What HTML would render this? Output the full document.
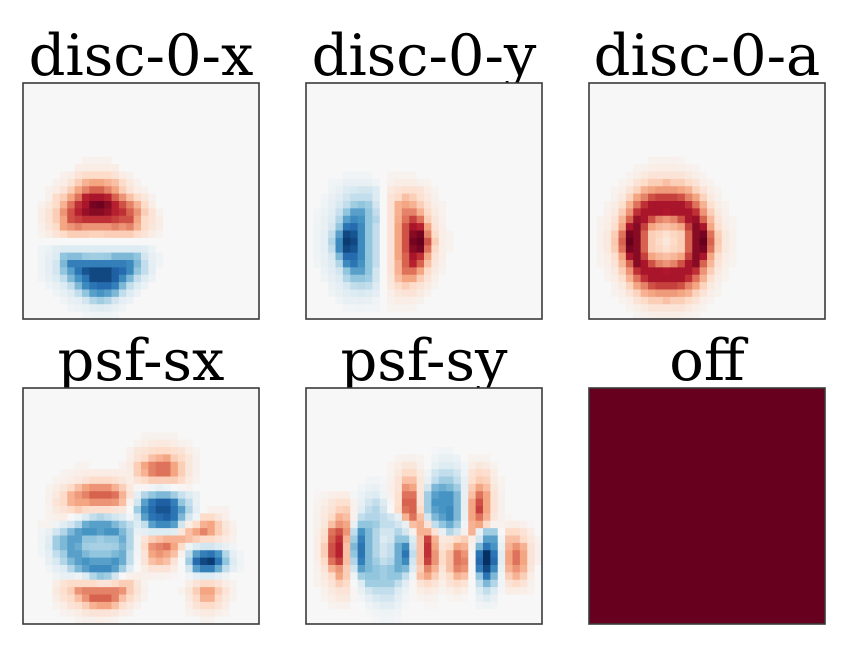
<!DOCTYPE html>
<html>
<head>
<meta charset="utf-8">
<style>
html,body{margin:0;padding:0;background:#fff;width:855px;height:650px;overflow:hidden}
svg{display:block}
text{font-family:"DejaVu Serif","Liberation Serif",serif;font-size:57.5px;fill:#000;text-anchor:middle}
</style>
</head>
<body>
<svg id="chart" width="855" height="650" viewBox="0 0 855 650" xmlns="http://www.w3.org/2000/svg">
<text x="141" y="75">disc-0-x</text>
<text x="424" y="75">disc-0-y</text>
<text x="707" y="75">disc-0-a</text>
<text x="141" y="380">psf-sx</text>
<text x="424" y="380">psf-sy</text>
<text x="707" y="380">off</text>
</svg>
<script>
const panelNames = ["disc-0-x","disc-0-y","disc-0-a","psf-sx","psf-sy","off"];
const discX = [
[],[],[],[],[],[],[],[],[],[],
[0,0,0,0,0,0,0,0,.3,.3,.3,.3],
[0,0,0,0,0,0,0,.5,.5,.5,.5,.5,.5],
[0,0,0,0,0,.3,.5,1,1.5,1.5,1.5,1.5,1,.5,.3],
[0,0,0,0,.3,.5,1,2,3,3.5,3.5,3,2.5,1.5,.7,.3],
[0,0,0,.3,.5,1,2,3.5,4.5,5.5,5.5,4.5,3.5,2,1,.5,.3],
[0,0,0,.3,1.5,2,3.5,5,7.5,8,8,7.5,5.5,4,2.5,1.5,.8,.3],
[0,0,.3,.7,1.5,3,5,7,8,9.5,9.8,9,7.5,6,4.5,3,1.5,.5],
[0,0,.5,1,2,4,6,7.5,8.5,9,9,8.5,7.5,7,5.5,4,2,1,.3],
[0,0,.5,1,2,3.5,6,6.5,7,7,7,7,6.5,6,6,3.5,1.5,1,.5],
[0,0,.3,.8,1.5,3.5,4,4.5,4,4,4,4,4.5,4,4.5,3,1.5,.8,.5],
[0,0,.2,.5,1,1.5,2,2,2,1.8,1.8,2,2,2,2,1.5,1,.5,.2],
[],
[0,0,-.3,-.4,-.8,-1,-1,-1,-1,-1,-1,-1,-1,-1,-1,-1,-.8,-.4],
[0,0,-.3,-.6,-1,-3.5,-3.8,-3.8,-3.2,-3,-3,-3.2,-4,-4,-4,-3.5,-1.5,-.6,-.3],
[0,0,-.3,-.7,-1.5,-4,-6.5,-6.5,-6.5,-6.5,-6.5,-6.5,-6.5,-6.5,-6,-4,-2,-.7,-.3],
[0,0,-.3,-.7,-1.5,-3.5,-5,-7,-8.5,-9,-9,-9,-8,-7.5,-6,-3.5,-2,-.7],
[0,0,-.2,-.5,-1,-2,-4,-5.5,-7,-9,-9,-9,-8,-6,-4,-2,-1,-.4],
[0,0,0,-.3,-.5,-1,-2,-4,-6,-7,-7.5,-7.5,-6.5,-4,-2,-1,-.4],
[0,0,0,0,-.3,-.5,-1,-2,-3.5,-5,-5.5,-5,-4,-2,-1,-.4],
[0,0,0,0,0,-.3,-.5,-.7,-1.5,-2.5,-3,-2.5,-1.5,-.7,-.4],
[0,0,0,0,0,0,-.3,-.4,-.5,-.8,-1,-.8,-.5,-.3],
[0,0,0,0,0,0,0,0,-.2,-.3,-.3,-.3,-.2]
];
const discY = [
[],[],[],[],[],[],[],[],[],[],[],[],
[0,0,0,0,0,-.2,-.2,-.2,-.2,0,0,.2,.2,.2,.2],
[0,0,0,-.2,-.3,-.5,-.5,-.5,-.5,-.3,0,.3,.5,.5,.5,.3,.2],
[0,0,0,-.3,-.5,-1,-1.2,-1.5,-1.5,-1,0,.7,1,1.2,1.2,1,.5,.2],
[0,0,-.2,-.5,-.8,-1.5,-2,-2,-2,-1,0,1,1.5,2.5,2,1.2,.7,.3],
[0,0,-.3,-.6,-1.2,-2,-3,-3.5,-3,-1.5,0,1,3,3.5,3,2,1,.4,.2],
[0,-.2,-.4,-.8,-1.8,-3.5,-5,-5,-3.5,-2,0,1,3,4.5,4.5,3,1.5,.6,.2],
[0,-.2,-.5,-1,-2.5,-5,-6,-5.5,-3.5,-2.5,0,1,3.2,5,6.5,5,2,.8,.3],
[0,-.3,-.5,-1.3,-3.5,-7,-7.5,-6,-3.5,-2,0,1,3.5,6,8,7.5,3.5,1,.4],
[0,-.3,-.7,-2,-5,-9,-8.5,-6,-3.5,-2,0,1,3.5,6,9,9.5,4.5,1.5,.4,.2],
[0,-.3,-.7,-2.5,-6,-9.5,-9,-6,-3.5,-2,0,1,3.5,6,9.5,10,6,2,.5,.2],
[0,-.3,-.7,-2,-6,-9,-8.5,-6,-3.5,-2,0,1,3.5,6,9,9.5,5,1.5,.4,.2],
[0,-.3,-.5,-1.3,-4,-7.5,-7.5,-6,-3.5,-2,0,1,3.5,5.5,8,7,3.5,1,.4],
[0,-.2,-.5,-1,-2.5,-6,-7,-5.5,-3.5,-2,0,1,3,5.5,7.5,5.5,2.5,.8,.3],
[0,0,-.4,-.8,-1.5,-3.5,-5,-5,-3.5,-1.5,0,1,3,5,5,3.5,1.5,.6,.2],
[0,0,-.3,-.6,-1,-2.5,-3.5,-3.5,-3,-1.5,0,.8,2.5,3.5,3.5,2,1,.4],
[0,0,0,-.4,-.7,-1.3,-2,-2.2,-2,-1,0,.7,1.5,2,1.5,1,.6,.2],
[0,0,0,-.3,-.5,-.8,-1,-1.2,-1,-.7,0,.4,.8,1,1,.6,.3],
[0,0,0,0,-.3,-.5,-.5,-.6,-.5,-.3,0,.3,.5,.5,.4,.3],
[0,0,0,0,0,-.2,-.2,-.3,-.2,-.2,0,.2,.2,.2,.2],
[]
];
const discA = [
[],[],[],[],[],[],[],[],[],[],
[0,0,0,0,0,0,0,0,.2,.3,.3,.3,.2],
[0,0,0,0,0,0,.2,.3,.4,.5,.5,.5,.4,.3,.2],
[0,0,0,0,0,.2,.4,.7,1,1,1,1,1,.7,.4,.2],
[0,0,0,0,.2,.4,1,1.5,2,2,2.5,2,2,1.5,1,.4,.2],
[0,0,0,.2,.4,1,1.8,3,3.5,3.8,3.8,3.8,3.5,3,1.8,1,.4,.2],
[0,0,0,.3,.7,1.8,3.5,4.5,6,6.5,6.5,6.5,6,4.5,3.5,1.8,.7,.3],
[0,0,.2,.5,1.2,3,5,7,8,8,8,8,8,7,5,3,1.2,.5,.2],
[0,0,.3,.7,2,4,7,8,8,8,7.8,8,8,8,7,4,2,.7,.3],
[0,.2,.4,1,2.8,5.5,8.5,8,6,4.5,4,4.5,6,8,8.5,5.5,2.8,1,.4,.2],
[0,.2,.5,1.3,3.5,8,9,6.5,3.5,2.8,2.5,2.8,3.5,6.5,9,8,3.5,1.3,.5,.2],
[0,.3,.7,2,5,9.5,9,5.5,2,1.7,1.2,1.7,2,5.5,9,9.5,5,2,.7,.3],
[0,.3,.7,2.2,5.5,10,9,5.5,2,1.5,.8,1.5,2,5.5,9,10,5.5,2.2,.7,.3],
[0,.3,.7,2,5,9.5,9,5.5,2,1.7,1.2,1.7,2,5.5,9,9.5,5,2,.7,.3],
[0,.2,.5,1.3,3.5,8,9,6.5,3.5,2.8,2.5,2.8,3.5,6.5,9,8,3.5,1.3,.5,.2],
[0,.2,.4,1,2.8,5.5,9,8,6,4.5,4,4.5,6,8,9,5.5,2.8,1,.4,.2],
[0,0,.3,.7,2,4,7,8,8,8,7.8,8,8,8,7,4,2,.7,.3],
[0,0,.2,.5,1.2,3,5,7,8,8,8,8,8,7,5,3,1.2,.5,.2],
[0,0,0,.3,.7,1.8,3.5,4.5,6,6.5,6.5,6.5,6,4.5,3.5,1.8,.7,.3],
[0,0,0,.2,.4,1,1.8,3,3.5,3.8,3.8,3.8,3.5,3,1.8,1,.4,.2],
[0,0,0,0,.2,.4,1,1.5,2,2,2.5,2,2,1.5,1,.4,.2],
[0,0,0,0,0,.2,.4,.7,1,1,1,1,1,.7,.4,.2],
[0,0,0,0,0,0,.2,.3,.4,.5,.5,.5,.4,.3,.2]
];
const psfSx = [
[],[],[],[],[],[],
[0,0,0,0,0,0,0,0,0,0,0,0,0,0,0,0,.2,.2,.2,.2,.2],
[0,0,0,0,0,0,0,0,0,0,0,0,0,0,0,.2,.4,.6,.7,.7,.5,.3,.2],
[0,0,0,0,0,0,0,0,0,0,0,0,0,0,.3,.8,1,1.3,1.5,1.5,1.2,1,.5,.2],
[0,0,0,0,0,0,0,0,0,0,0,0,0,0,.4,1,1.5,2.5,3,3.5,2,1.5,.8,.3],
[0,0,0,0,0,0,0,.2,.2,0,0,0,0,.3,.6,2,3.5,4.5,5,5,3.5,2,.8,.3],
[0,0,0,0,0,.2,.3,.4,.5,.5,.5,.5,.5,.4,.5,2,3,4.5,5,5,3.5,2,.8,.3],
[0,0,0,0,.2,.3,.5,.7,1,1.5,1.5,1.5,1.2,.8,.5,1,1.5,2,2,2,2,1.5,.6,.2],
[0,0,0,.2,.5,.8,1.5,2.5,3.5,4,4,4,3,2,.7,.1,.1,-.2,-.5,-.3,0,.1,.2],
[0,0,0,.3,.7,1.5,3,3.8,4.5,5.5,5.5,5.5,5,3,1,-.7,-2.5,-3.5,-4,-4,-3,-1.8,-1,-.5],
[0,0,0,.3,1,1.5,3,3.5,3.5,4,4,4,3.8,2.5,.2,-1.5,-5,-7,-8,-8,-6.5,-3.5,-2,-.5],
[0,0,0,.2,.7,1,1.5,2,1.5,1.3,1.3,1.3,1,.8,0,-3,-6,-7.5,-8.5,-8.5,-7,-5,-2.5,-.7,0,.3,.3,.3],
[0,0,0,.2,.4,.5,0,-.3,-1,-2,-2.5,-2,-1.5,-1,-.2,-1.5,-5,-7,-7.5,-8,-7,-4,-1.5,-.3,1.5,1.5,.8,.4],
[0,0,.2,.2,-.3,-.8,-1.5,-2.5,-4.5,-5,-5,-5,-4,-3,-2,-1,-2,-5,-6,-6,-5,-1.5,.5,1.5,3,3.5,2,.8,.3],
[0,0,-.2,-.5,-1.5,-2.5,-4,-5,-5.5,-5.5,-5,-5.5,-5.5,-4,-2.5,-.5,-.7,-1,-1,-1,-.8,.8,2.5,3.5,4.5,3.5,2,1,.4],
[0,0,-.3,-.8,-3,-4,-5,-5,-3.5,-3.5,-3,-3.5,-3.5,-4.5,-2.5,-.3,1,2,2.5,3,3,3,2.5,2,1.5,1.5,1,.6,.3],
[0,0,-.3,-1,-3,-4,-5,-4.5,-3,-2.8,-2.8,-2.8,-3,-4,-2.5,-.3,1.5,4,4.5,5,3.5,1.5,-.3,-1,-1.5,-1.5,-1,-.5,-.2],
[0,0,-.2,-.7,-2,-3,-5,-5,-4,-3.5,-3.5,-3.5,-4,-4.5,-2,-.2,1,3.5,4,3.5,2.5,.3,-2,-5,-6.5,-7,-5.5,-2.5,-.7,-.2],
[0,0,0,-.5,-1.2,-2.5,-4,-5,-5.5,-5,-5,-5,-5.5,-4.5,-2,-.1,1,2.5,3,2.5,1,0,-3,-7.5,-9,-9.5,-7,-3.5,-1,-.3],
[0,0,0,-.2,-.7,-1,-2.5,-4,-5,-6,-6,-6,-5,-3,-1,0,.5,1,1,1,.5,0,-1.5,-5,-6.5,-6.5,-4.5,-2,-.7,-.2],
[0,0,0,0,-.3,-.5,-.5,-.3,-1,-2.5,-3.5,-3,-1.5,0,.3,.4,.3,.3,.3,.2,.1,0,-.2,-.7,-1,-1,-.6,-.3],
[0,0,0,0,.5,1,1.5,1.5,1.5,1.5,1,1,1.5,2,2,.8,.2,0,0,0,0,0,.5,1,1.5,1.5,1,.5,.2],
[0,0,0,0,.7,1.3,2,4,4.5,4.5,4.5,4.5,4.5,4,2,1,.3,0,0,0,0,.2,.8,2,3.5,3.5,2,1,.3],
[0,0,0,0,.5,1,1.5,2.5,4,5.5,5.5,5.5,4.5,2.5,1.5,.7,.2,0,0,0,0,0,.6,1.5,3,3,1.5,.7,.2],
[0,0,0,0,.2,.5,1,1.3,2,3,3.5,3.5,2.5,1.3,.7,.3,0,0,0,0,0,0,.4,1,1.5,1.5,1,.5],
[0,0,0,0,0,.2,.3,.5,.8,1,1,1,.8,.5,.3,0,0,0,0,0,0,0,.2,.4,.6,.6,.4,.2],
[0,0,0,0,0,0,0,.2,.3,.3,.4,.3,.2,0,0,0,0,0,0,0,0,0,0,0,.2,.2]
];
const psfSy = [
[],[],[],[],[],[],[],[],
[0,0,0,0,0,0,0,0,0,0,0,0,0,0,0,0,0,-.1,-.2,-.2],
[0,0,0,0,0,0,0,0,0,0,0,0,.2,.3,.3,.2,0,-.3,-.5,-.5,-.4,0,.2,.2,.2],
[0,0,0,0,0,0,0,0,0,0,0,.2,.5,.8,.8,.3,0,-.5,-1,-1,-.7,-.2,.5,.8,.6,.2],
[0,0,0,0,0,0,0,0,0,0,0,.2,.7,1.5,1.5,.6,-.3,-1.5,-2,-2,-1.5,-.3,1,1.5,1.3,.5],
[0,0,0,0,0,0,0,0,-.2,-.2,-.1,.3,1,2.5,2.5,.8,-.5,-2,-3,-3,-2,-.5,1.2,2,1.8,.6,.2],
[0,0,0,0,0,0,0,-.2,-.4,-.5,-.2,.4,1,4,3.5,.8,-1.5,-4,-4.5,-4,-3,-.6,2,3.5,2.5,.8,.2],
[0,.1,.2,.4,.5,.5,-.1,-.4,-.8,-1,-.3,.3,1.2,5,5,1,-3,-5,-5.5,-5.5,-4,-.6,2.5,5,3.5,1,.3],
[0,.2,.4,.8,1.2,1.2,.3,-.5,-1.5,-2,-1,.1,1.2,5.5,5.5,1,-3,-5.5,-5.5,-5.5,-4,-.6,3.5,6,3.5,1,.3],
[0,.2,.6,1,1.8,2,.3,-.8,-2,-2.5,-1.5,0,1.5,5,5.5,1.5,-3,-5,-5.5,-6,-4,-.5,3.5,6.5,3.5,1,.3],
[0,.3,.7,1.5,3,2.5,.3,-2,-2.5,-2.5,-2,-1.5,-.5,3,5,2.5,-1.5,-4,-5,-6,-4,-.5,3.5,5,3,.8,.3,.1],
[0,.3,.8,2.5,4,3.5,-.5,-3.5,-3.5,-3,-2,-2,-1.5,-.5,2.5,3,1,-2,-3.5,-4.5,-3,-.2,3,3.5,1.5,.2,.2,.4,.5,.3,.1],
[0,.4,1.2,5,6,4,-2,-5.5,-4,-2.5,-1.5,-1.5,-2.5,-1.5,.3,3,3,1,-.5,-2.5,-1.5,.3,3,-.5,-3,-3,0,1.5,1.5,1,.5],
[0,.5,1.5,5.5,7,3,-3,-6.5,-4,-2.5,-1,-1.5,-3.5,-3.5,-1,2.5,6.5,3,.7,.8,1.5,2,.5,-1.5,-5,-5,-.3,2.5,2.5,1.5,.7,.2],
[0,.5,2,6,7.5,2.5,-4,-7,-4,-2.5,-1.5,-2,-4.5,-6,-1.5,2.5,7,3.5,1,1.5,3.5,3,.3,-4,-7,-5.5,-.5,3,4,3,1,.3],
[0,.5,2,6,7.5,2.5,-3.5,-7,-4,-2.5,-1.5,-2,-4.5,-7,-2,2.5,7,4,1.5,2.5,5,4,0,-7,-10,-7,-.8,3.5,5,3.5,1,.3],
[0,.4,1.5,5,6.5,2.5,-2.5,-6.5,-4,-3,-2,-2.5,-4.5,-6,-1.5,2.5,6.5,4,1.5,2.5,5,4.5,0,-7.5,-10,-7.5,-.8,3.5,5,3.5,1,.3],
[0,.3,1,3,4,2,-1.5,-5,-4,-3.5,-3,-3.5,-4.5,-4,-1,2,4.5,3,1,2.5,4.5,4,0,-6.5,-9,-6,-.5,3,4,3,.8],
[0,.2,.7,1.5,3.5,2,-.3,-3,-3.5,-3.5,-3,-3.5,-3.5,-2,-.3,2.5,3.5,2,.7,1.5,3,2.5,0,-3.5,-7,-4,-.3,2,3,2,.5],
[0,.2,.5,1,2,1.5,0,-1,-3,-3,-3,-3,-2,-.8,.1,1,1.5,1,.4,1,1.5,1,0,-2,-4,-2.5,-.2,1,1.5,1,.3],
[0,0,.3,.7,1,1,.1,-.5,-1.5,-2,-2,-2,-1,-.4,.1,.5,.7,.5,.2,.4,.7,.4,0,-1,-2,-1,-.1,.5,.5,.4,.2],
[0,0,.2,.4,.7,.7,.1,-.2,-.7,-1.2,-1.5,-1.5,-.7,-.2,.1,.2,.3,.2,0,.1,.2,.1,0,-.5,-1,-.5],
[0,0,0,.2,.3,.3,0,0,-.3,-.5,-.8,-.8,-.4,-.1,0,0,.1,.1,0,0,0,0,0,-.2,-.3,-.2],
[0,0,0,0,0,0,0,0,-.1,-.2,-.3,-.3,-.2],
[0,0,0,0,0,0,0,0,0,-.1,-.2,-.2,-.1]
];
const offLevel = [10];
const levelStops = [-10,-8,-6,-4,-2,0,2,4,6,8,10];
const stopColors = ["#053061","#2166ac","#4393c3","#92c5de","#d1e5f0","#f7f7f7","#fddbc7","#f4a582","#d6604d","#b2182b","#67001f"];

const svg = document.getElementById('chart');
const NS = 'http://www.w3.org/2000/svg';
const GRID = 32;
const AX_SIZE = 236;
const AX_LEFT = [23, 306, 589];
const AX_TOP = [83, 388];
const NORM_POWER = 0.87;

function rgb(hex){
  return [parseInt(hex.slice(1,3),16),parseInt(hex.slice(3,5),16),parseInt(hex.slice(5,7),16)];
}
function colorScale(v){
  const clipped = Math.max(-10, Math.min(10, v));
  const t = Math.sign(clipped) * 10 * Math.pow(Math.abs(clipped) / 10, NORM_POWER);
  let i = 0;
  while (i < levelStops.length - 2 && t > levelStops[i + 1]) i++;
  const f = (t - levelStops[i]) / (levelStops[i + 1] - levelStops[i]);
  const a = rgb(stopColors[i]);
  const b = rgb(stopColors[i + 1]);
  return 'rgb(' + a.map(function(c, k){ return Math.round(c + (b[k] - c) * f); }).join(',') + ')';
}
function xScale(panel, col){ return AX_LEFT[panel % 3] + col * AX_SIZE / GRID; }
function yScale(panel, row){ return AX_TOP[Math.floor(panel / 3)] + row * AX_SIZE / GRID; }

function valueAt(panel, r, c){
  if (panel === 5) return offLevel[0];
  const grid = [discX, discY, discA, psfSx, psfSy][panel];
  const row = grid[r] || [];
  return row[c] || 0;
}

for (let p = 0; p < panelNames.length; p++) {
  const g = document.createElementNS(NS, 'g');
  
  
  const cw = AX_SIZE / GRID;
  for (let r = 0; r < GRID; r++) {
    for (let c = 0; c < GRID; c++) {
      const el = document.createElementNS(NS, 'rect');
      
      
      el.setAttribute('x', xScale(p, c));
      el.setAttribute('y', yScale(p, r));
      el.setAttribute('width', cw + (c < GRID - 1 ? 0.4 : 0));
      el.setAttribute('height', cw + (r < GRID - 1 ? 0.4 : 0));
      el.setAttribute('fill', colorScale(valueAt(p, r, c)));
      g.appendChild(el);
    }
  }
  const frame = document.createElementNS(NS, 'rect');
  
  
  frame.setAttribute('x', xScale(p, 0));
  frame.setAttribute('y', yScale(p, 0));
  frame.setAttribute('width', AX_SIZE);
  frame.setAttribute('height', AX_SIZE);
  frame.setAttribute('fill', 'none');
  frame.setAttribute('stroke', '#3a3a3a');
  frame.setAttribute('stroke-width', '1.6');
  g.appendChild(frame);
  svg.appendChild(g);
}
</script>
</body>
</html>
